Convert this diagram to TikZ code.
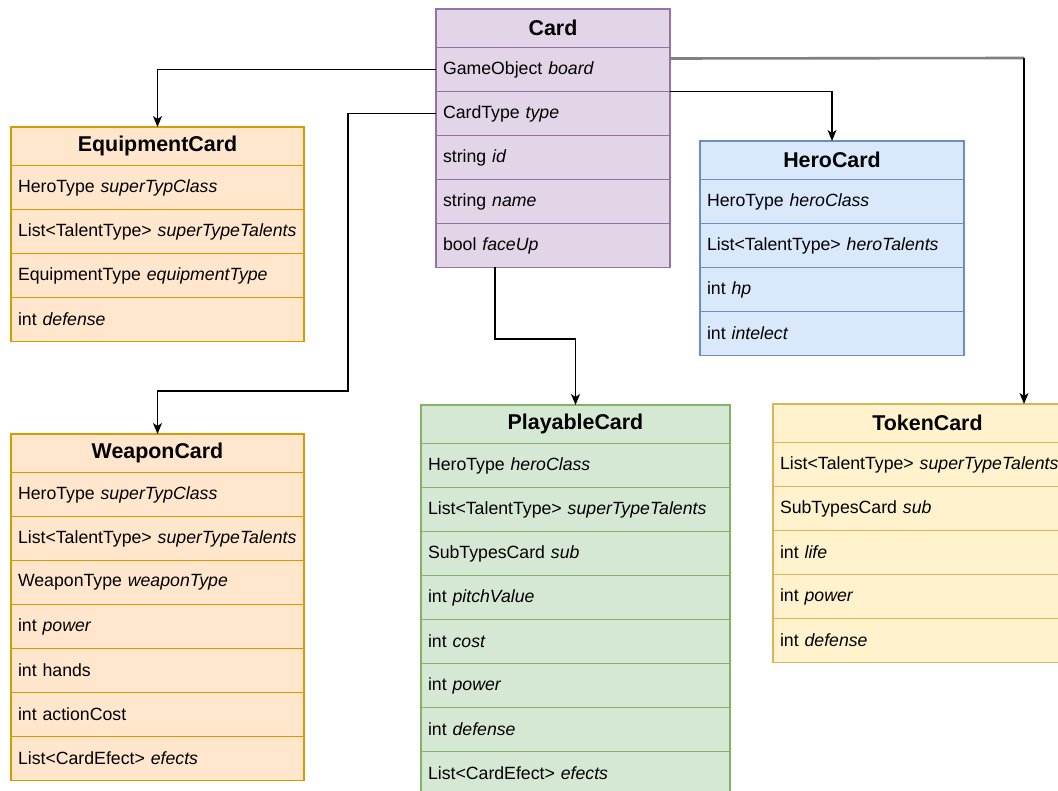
\documentclass[tikz,border=0pt]{standalone}
\usepackage{fontspec}
\setmainfont{Liberation Sans}
\usetikzlibrary{arrows.meta}

\definecolor{cardfill}{HTML}{E1D5E7}
\definecolor{cardline}{HTML}{9673A6}
\definecolor{orangefill}{HTML}{FFE6CC}
\definecolor{orangeline}{HTML}{D79B00}
\definecolor{herofill}{HTML}{DAE8FC}
\definecolor{heroline}{HTML}{6C8EBF}
\definecolor{playfill}{HTML}{D5E8D4}
\definecolor{playline}{HTML}{82B366}
\definecolor{tokenfill}{HTML}{FFF2CC}
\definecolor{tokenline}{HTML}{D6B656}

\tikzset{
  head/.style={draw, rectangle, anchor=north west, minimum height=38.5pt,
    inner xsep=7pt, inner ysep=0pt, outer sep=0pt, align=center, line width=1.2pt,
    font=\fontsize{21.4}{25}\selectfont\bfseries},
  attr/.style={draw, rectangle, anchor=north west, minimum height=44pt,
    inner xsep=7pt, inner ysep=0pt, outer sep=0pt, align=left, line width=1.2pt,
    font=\fontsize{17.7}{21}\selectfont},
  purplebox/.style={fill=cardfill, draw=cardline},
  orangebox/.style={fill=orangefill, draw=orangeline},
  bluebox/.style={fill=herofill, draw=heroline},
  greenbox/.style={fill=playfill, draw=playline},
  yellowbox/.style={fill=tokenfill, draw=tokenline},
  link/.style={-{Stealth[length=11pt,width=9pt,inset=3pt]}, line width=1.4pt},
  thickgray/.style={draw=gray, line width=2.6pt},
}

\begin{document}
\begin{tikzpicture}[x=1pt,y=-1pt]
	\useasboundingbox (0,0) rectangle (1058,791);
	% Card
	\node[head, purplebox, text width=220pt] (card) at (436,9) {Card};
	\node[attr, purplebox, text width=220pt] (cboard) at (card.south west) {GameObject \textit{board}};
	\node[attr, purplebox, text width=220pt] (ctype) at (cboard.south west) {CardType \textit{type}};
	\node[attr, purplebox, text width=220pt] (cid) at (ctype.south west) {string \textit{id}};
	\node[attr, purplebox, text width=220pt] (cname) at (cid.south west) {string \textit{name}};
	\node[attr, purplebox, text width=220pt] (cface) at (cname.south west) {bool \textit{faceUp}};
	% EquipmentCard
	\node[head, orangebox, text width=279pt] (equip) at (11,127) {EquipmentCard};
	\node[attr, orangebox, text width=279pt] (eclass) at (equip.south west) {HeroType \textit{superTypClass}};
	\node[attr, orangebox, text width=279pt] (etalent) at (eclass.south west) {List<TalentType> \textit{superTypeTalents}};
	\node[attr, orangebox, text width=279pt] (etype) at (etalent.south west) {EquipmentType \textit{equipmentType}};
	\node[attr, orangebox, text width=279pt] (edef) at (etype.south west) {int \textit{defense}};
	% HeroCard
	\node[head, bluebox, text width=250pt] (hero) at (700,141) {HeroCard};
	\node[attr, bluebox, text width=250pt] (hclass) at (hero.south west) {HeroType \textit{heroClass}};
	\node[attr, bluebox, text width=250pt] (htalent) at (hclass.south west) {List<TalentType> \textit{heroTalents}};
	\node[attr, bluebox, text width=250pt] (hhp) at (htalent.south west) {int \textit{hp}};
	\node[attr, bluebox, text width=250pt] (hint) at (hhp.south west) {int \textit{intelect}};
	% WeaponCard
	\node[head, orangebox, text width=279pt] (weapon) at (11,434) {WeaponCard};
	\node[attr, orangebox, text width=279pt] (wclass) at (weapon.south west) {HeroType \textit{superTypClass}};
	\node[attr, orangebox, text width=279pt] (wtalent) at (wclass.south west) {List<TalentType> \textit{superTypeTalents}};
	\node[attr, orangebox, text width=279pt] (wtype) at (wtalent.south west) {WeaponType \textit{weaponType}};
	\node[attr, orangebox, text width=279pt] (wpower) at (wtype.south west) {int \textit{power}};
	\node[attr, orangebox, text width=279pt] (whands) at (wpower.south west) {int hands};
	\node[attr, orangebox, text width=279pt] (wcost) at (whands.south west) {int actionCost};
	\node[attr, orangebox, text width=279pt] (wefect) at (wcost.south west) {List<CardEfect> \textit{efects}};
	% PlayableCard
	\node[head, greenbox, text width=295pt] (play) at (421,405) {PlayableCard};
	\node[attr, greenbox, text width=295pt] (pclass) at (play.south west) {HeroType \textit{heroClass}};
	\node[attr, greenbox, text width=295pt] (ptalent) at (pclass.south west) {List<TalentType> \textit{superTypeTalents}};
	\node[attr, greenbox, text width=295pt] (psub) at (ptalent.south west) {SubTypesCard \textit{sub}};
	\node[attr, greenbox, text width=295pt] (ppitch) at (psub.south west) {int \textit{pitchValue}};
	\node[attr, greenbox, text width=295pt] (pcost) at (ppitch.south west) {int \textit{cost}};
	\node[attr, greenbox, text width=295pt] (ppower) at (pcost.south west) {int \textit{power}};
	\node[attr, greenbox, text width=295pt] (pdef) at (ppower.south west) {int \textit{defense}};
	\node[attr, greenbox, text width=295pt] (pefect) at (pdef.south west) {List<CardEfect> \textit{efects}};
	% TokenCard
	\node[head, yellowbox, text width=295pt] (token) at (773,404) {TokenCard};
	\node[attr, yellowbox, text width=295pt] (ttalent) at (token.south west) {List<TalentType> \textit{superTypeTalents}};
	\node[attr, yellowbox, text width=295pt] (tsub) at (ttalent.south west) {SubTypesCard \textit{sub}};
	\node[attr, yellowbox, text width=295pt] (tlife) at (tsub.south west) {int \textit{life}};
	\node[attr, yellowbox, text width=295pt] (tpower) at (tlife.south west) {int \textit{power}};
	\node[attr, yellowbox, text width=295pt] (tdef) at (tpower.south west) {int \textit{defense}};
	% connectors
	\coordinate (bendw) at (348,391);
	\coordinate (bendp) at (495,339);
	\coordinate (bendt) at (1024,58);
	\draw[link] (cboard.west) -| (equip.north);
	\draw[link] (cboard.south east) -| (hero.north);
	\draw[thickgray] ([yshift=11pt]cboard.east) -- (bendt);
	\draw[link] (bendt) -- (bendt |- token.north);
	\draw[link] (ctype.west) -| (bendw) -| (weapon.north);
	\draw[link] (cface.south -| bendp) -- (bendp) -| (play.north);
\end{tikzpicture}
\end{document}
